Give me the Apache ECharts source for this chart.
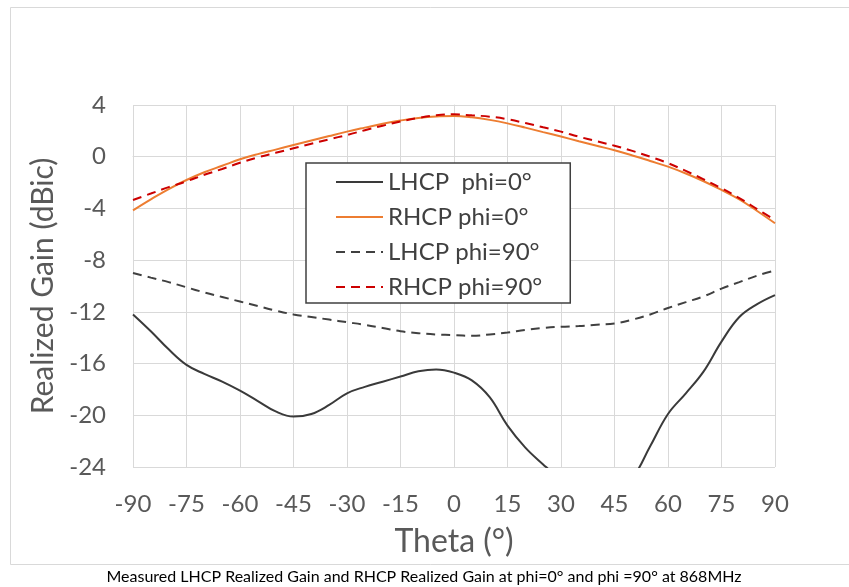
<!DOCTYPE html>
<html>
<head>
<meta charset="utf-8">
<script src="https://cdn.jsdelivr.net/npm/echarts@6/dist/echarts.min.js"></script>
<style>
html,body{margin:0;padding:0;background:#fff;}
#c{width:849px;height:587px;}
</style>
</head>
<body>
<div id="c"></div>
<script>
var theta = [-90,-85,-80,-75,-70,-65,-60,-55,-50,-45,-40,-35,-30,-25,-20,-15,-10,-5,0,5,10,15,20,25,30,35,40,45,50,55,60,65,70,75,80,85,90];
var lhcp0 = [-12.2,-13.5,-14.9,-16.1,-16.8,-17.4,-18.1,-18.9,-19.7,-20.1,-19.9,-19.2,-18.3,-17.8,-17.4,-17.0,-16.6,-16.45,-16.7,-17.3,-18.6,-20.8,-22.5,-23.8,-25.0,-26.0,-26.5,-26.2,-24.9,-22.4,-19.9,-18.3,-16.6,-14.3,-12.4,-11.4,-10.7];
var rhcp0 = [-4.15,-3.3,-2.5,-1.8,-1.2,-0.7,-0.2,0.2,0.55,0.9,1.25,1.6,1.94,2.25,2.55,2.8,3.0,3.12,3.15,3.05,2.85,2.58,2.25,1.9,1.56,1.2,0.85,0.5,0.1,-0.33,-0.77,-1.3,-1.9,-2.57,-3.3,-4.2,-5.15];
var lhcp90 = [-9.0,-9.35,-9.7,-10.1,-10.5,-10.85,-11.2,-11.55,-11.9,-12.2,-12.4,-12.6,-12.8,-13.0,-13.25,-13.5,-13.65,-13.75,-13.8,-13.85,-13.75,-13.6,-13.4,-13.25,-13.15,-13.1,-13.0,-12.9,-12.6,-12.2,-11.7,-11.25,-10.8,-10.2,-9.7,-9.2,-8.8];
var rhcp90 = [-3.35,-2.85,-2.35,-1.9,-1.4,-0.95,-0.47,-0.05,0.3,0.65,1.0,1.35,1.68,2.05,2.4,2.72,3.0,3.2,3.28,3.2,3.1,2.9,2.6,2.28,1.94,1.55,1.2,0.85,0.45,0.0,-0.5,-1.1,-1.75,-2.44,-3.2,-4.05,-4.9];
var seriesNames = ['LHCP  phi=0°','RHCP phi=0°','LHCP phi=90°','RHCP phi=90°'];
var caption = 'Measured LHCP Realized Gain and RHCP Realized Gain at phi=0° and phi =90° at 868MHz';

function pairs(ys){ return theta.map(function(t,i){ return [t, ys[i]]; }); }

var FONT = 'Lato';
var chart = echarts.init(document.getElementById('c'), null, {renderer:'canvas'});
function mk(name, ys, color, type){
  return {
    name: name, type: 'line', data: pairs(ys), smooth: 0.4, symbol: 'none',
    clip: true,
    lineStyle: {color: color, width: 2, type: type},
    itemStyle: {color: color},
    emphasis: {disabled: true}
  };
}
chart.setOption({
  animation: false,
  backgroundColor: '#fff',
  grid: {left: 133, right: 74, top: 105, bottom: 120, containLabel: false},
  xAxis: {
    type: 'value', min: -90, max: 90, interval: 15,
    name: 'Theta (°)', nameLocation: 'middle', nameGap: 59,
    nameTextStyle: {fontFamily: FONT, fontSize: 32, color: '#595959'},
    axisLine: {show: true, lineStyle: {color: '#d9d9d9', width: 1}},
    axisTick: {show: false},
    axisLabel: {fontFamily: FONT, fontSize: 24, color: '#595959', margin: 25},
    splitLine: {show: true, lineStyle: {color: '#d9d9d9', width: 1}}
  },
  yAxis: {
    type: 'value', min: -24, max: 4, interval: 4,
    name: 'Realized Gain (dBic)', nameLocation: 'middle', nameGap: 73, nameRotate: 90,
    nameTextStyle: {fontFamily: FONT, fontSize: 30, color: '#595959'},
    axisLine: {show: true, lineStyle: {color: '#d9d9d9', width: 1}},
    axisTick: {show: false},
    axisLabel: {fontFamily: FONT, fontSize: 24, color: '#595959', margin: 27},
    splitLine: {show: true, lineStyle: {color: '#d9d9d9', width: 1}}
  },
  legend: {
    orient: 'vertical', left: 306, top: 163,
    data: seriesNames,
    backgroundColor: '#fff', borderColor: '#404040', borderWidth: 1.5,
    padding: [7, 28, 4, 29],
    itemWidth: 47, itemHeight: 14, itemGap: 11,
    itemStyle: {opacity: 0},
    textStyle: {fontFamily: FONT, fontSize: 24, color: '#404040', lineHeight: 24},
    selectedMode: false
  },
  series: [
    mk(seriesNames[0], lhcp0, '#3a3a3a', 'solid'),
    mk(seriesNames[1], rhcp0, '#ED7D31', 'solid'),
    mk(seriesNames[2], lhcp90, '#404040', [9,6]),
    mk(seriesNames[3], rhcp90, '#CC0000', [9,6])
  ],
  graphic: [
    {type: 'rect', shape: {x: 10.5, y: 7.5, width: 900, height: 557}, style: {fill: 'none', stroke: '#d9d9d9', lineWidth: 1}, z: -1, silent: true},
    {type: 'text', x: 424, y: 577, style: {text: caption, fontFamily: FONT, fontSize: 16, fill: '#000', align: 'center', verticalAlign: 'middle'}, silent: true}
  ]
});
</script>
</body>
</html>
